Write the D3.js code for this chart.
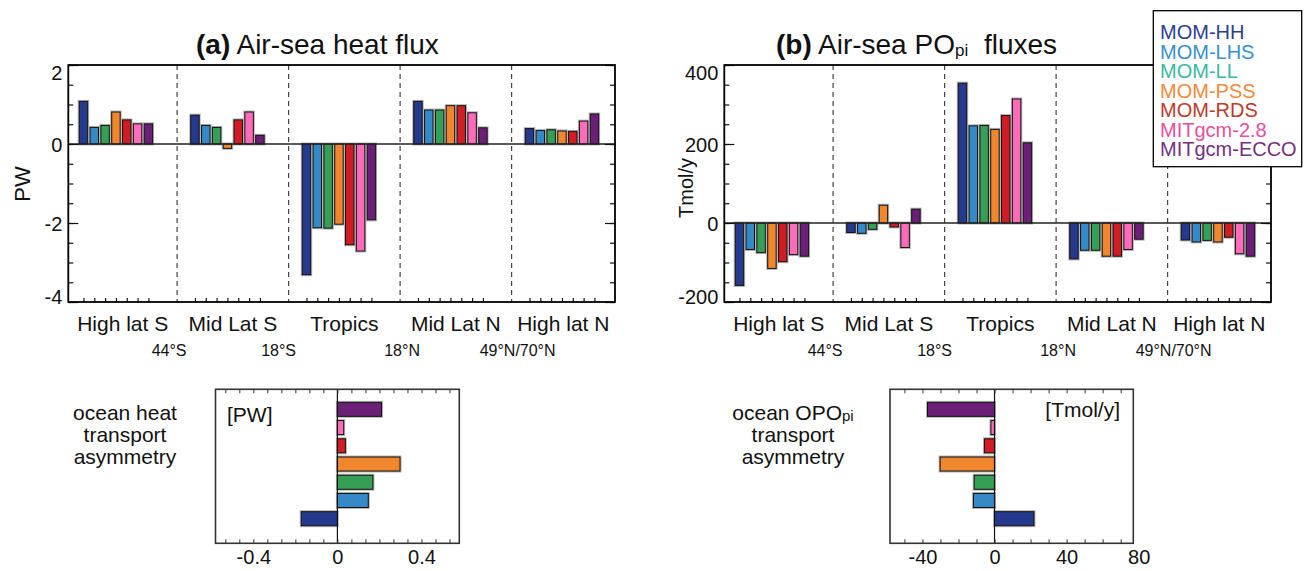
<!DOCTYPE html>
<html>
<head>
<meta charset="utf-8">
<script src="https://cdn.jsdelivr.net/npm/d3@7"></script>
<style>
body { margin: 0; background: #fff; }
svg text { font-family: "Liberation Sans", Arial, sans-serif; fill: #111; }
</style>
</head>
<body>
<svg id="chart" width="1309" height="571"></svg>
<script>
// models, in the order the bars are drawn
var models = ["MOM-HH", "MOM-LHS", "MOM-LL", "MOM-PSS", "MOM-RDS", "MITgcm-2.8", "MITgcm-ECCO"];
var barColors = ["#253a8d", "#3589c6", "#35a055", "#f0862d", "#d21c24", "#ff6bbb", "#6b1f77"];
var legendColors = ["#2b3f91", "#3a8fd0", "#3bb8a0", "#f5893a", "#c0392b", "#e84f9c", "#76307f"];

var regions = ["High lat S", "Mid Lat S", "Tropics", "Mid Lat N", "High lat N"];
var boundaries = ["44°S", "18°S", "18°N", "49°N/70°N"];

// (a) air-sea heat flux, PW (one value per model)
var heatHighLatS = [1.08, 0.42, 0.47, 0.81, 0.61, 0.51, 0.51];
var heatMidLatS  = [0.73, 0.47, 0.42, -0.11, 0.61, 0.81, 0.22];
var heatTropics  = [-3.31, -2.12, -2.13, -2.03, -2.55, -2.71, -1.92];
var heatMidLatN  = [1.08, 0.86, 0.86, 0.97, 0.97, 0.79, 0.41];
var heatHighLatN = [0.39, 0.34, 0.36, 0.33, 0.32, 0.58, 0.76];

// (b) air-sea POpi fluxes, Tmol/y
var poHighLatS = [-158, -67, -75, -115, -98, -80, -84];
var poMidLatS  = [-24, -26, -16, 45, -10, -62, 35];
var poTropics  = [354, 246, 247, 237, 272, 314, 203];
var poMidLatN  = [-91, -69, -69, -84, -84, -67, -41];
var poHighLatN = [-43, -48, -44, -48, -36, -78, -84];

// transport asymmetry insets
var heatAsym = [-0.172, 0.147, 0.169, 0.298, 0.038, 0.03, 0.21];
var poAsym   = [21.9, -11.7, -11.3, -30.2, -5.6, -2, -37.2];

var heatTicks = [-4, -2, 0, 2];
var poTicks = [-200, 0, 200, 400];
var heatAsymTicks = [-0.4, 0, 0.4];
var poAsymTicks = [-40, 0, 40, 80];

var svg = d3.select("#chart");

// x positions are in "bar slots": 7 bars + gap per region
var regionStep = 10.3, firstBar = 1.4, firstDivider = 10.05, slotsTotal = 50.5;
var plotTop = 65, plotBottom = 302, plotWidth = 546.7;

function drawPanel(o) {
  var g = svg.append("g");
  var x = d3.scaleLinear().domain([0, slotsTotal]).range([o.left, o.left + plotWidth]);
  var y = d3.scaleLinear().domain(o.domain).range([plotBottom, plotTop]);
  var right = o.left + plotWidth;
  var bw = x(0.78) - x(0);

  // dashed region dividers
  var divs = d3.range(4).map(function(k) { return firstDivider + k * regionStep; });
  g.selectAll(".div").data(divs).enter().append("line")
    .attr("x1", d => x(d)).attr("x2", d => x(d))
    .attr("y1", plotTop).attr("y2", plotBottom)
    .attr("stroke", "#444").attr("stroke-width", 1.2)
    .attr("stroke-dasharray", "5,4");

  // bars
  var barPos = [];
  o.data.forEach(function(vals, k) {
    var items = vals.map(function(v, j) {
      var s = firstBar + k * regionStep + j;
      barPos.push(s);
      return { s: s, v: v, c: barColors[j] };
    });
    var bg = g.append("g");
    bg.selectAll(".halo").data(items).enter().append("rect")
      .attr("x", d => x(d.s) - bw / 2)
      .attr("y", d => Math.min(y(d.v), y(0)))
      .attr("width", bw)
      .attr("height", d => Math.abs(y(d.v) - y(0)))
      .attr("fill", "none").attr("stroke", "#b5b5b5").attr("stroke-width", 3);
    bg.selectAll(".bar").data(items).enter().append("rect")
      .attr("x", d => x(d.s) - bw / 2)
      .attr("y", d => Math.min(y(d.v), y(0)))
      .attr("width", bw)
      .attr("height", d => Math.abs(y(d.v) - y(0)))
      .attr("fill", d => d.c).attr("stroke", "#111").attr("stroke-width", 1);
  });

  // zero line
  g.append("line")
    .attr("x1", o.left).attr("x2", right)
    .attr("y1", y(0)).attr("y2", y(0))
    .attr("stroke", "#222").attr("stroke-width", 1.3);

  // axes
  var minor = d3.range(o.domain[0], o.domain[1] + 1e-9, o.minorStep);
  g.append("g").attr("transform", `translate(${o.left},0)`)
    .call(d3.axisLeft(y).tickValues(o.ticks).tickSize(-10).tickPadding(6).tickFormat(d => String(d)))
    .call(a => a.select(".domain").remove())
    .call(a => a.selectAll("text")
      .attr("font-size", 20).attr("font-family", "Liberation Sans, Arial, sans-serif")
      .attr("y", d => d === o.domain[1] ? 8 : d === o.domain[0] ? -5 : 1));
  g.append("g").attr("transform", `translate(${o.left},0)`)
    .call(d3.axisLeft(y).tickValues(minor).tickSize(-5).tickFormat(""))
    .call(a => a.select(".domain").remove());
  g.append("g").attr("transform", `translate(${right},0)`)
    .call(d3.axisRight(y).tickValues(o.ticks).tickSize(-10).tickFormat(""))
    .call(a => a.select(".domain").remove());
  g.append("g").attr("transform", `translate(${right},0)`)
    .call(d3.axisRight(y).tickValues(minor).tickSize(-5).tickFormat(""))
    .call(a => a.select(".domain").remove());
  g.append("g").attr("transform", `translate(0,${plotBottom})`)
    .call(d3.axisBottom(x).tickValues(barPos).tickSize(-4).tickFormat(""))
    .call(a => a.select(".domain").remove());
  g.selectAll(".tick line").attr("stroke", "#111").attr("stroke-width", 1.2);

  // frame
  g.append("rect")
    .attr("x", o.left).attr("y", plotTop)
    .attr("width", plotWidth).attr("height", plotBottom - plotTop)
    .attr("fill", "none").attr("stroke", "#000").attr("stroke-width", 1.8);

  // region names
  var edges = [0].concat(divs).concat([slotsTotal]);
  g.selectAll(".reg").data(regions).enter().append("text")
    .attr("x", (d, i) => x((edges[i] + edges[i + 1]) / 2))
    .attr("y", 331)
    .attr("text-anchor", "middle")
    .attr("font-size", 21)
    .text(d => d);

  // boundary latitudes
  var latShift = [-8, -10, 2, 6];
  g.selectAll(".lat").data(boundaries).enter().append("text")
    .attr("x", (d, i) => x(divs[i]) + latShift[i])
    .attr("y", 356)
    .attr("text-anchor", "middle")
    .attr("font-size", 16)
    .text(d => d);

  // y title
  g.append("text")
    .attr("transform", `translate(${o.titleX},${o.titleY}) rotate(-90)`)
    .attr("text-anchor", "middle")
    .attr("dy", "0.35em")
    .attr("font-size", o.titleSize)
    .text(o.yTitle);
}

drawPanel({ left: 68.3, domain: [-4, 2], ticks: heatTicks, minorStep: 0.5,
  data: [heatHighLatS, heatMidLatS, heatTropics, heatMidLatN, heatHighLatN],
  yTitle: "PW", titleX: 22, titleY: 184, titleSize: 22 });
drawPanel({ left: 724.3, domain: [-200, 400], ticks: poTicks, minorStep: 50,
  data: [poHighLatS, poMidLatS, poTropics, poMidLatN, poHighLatN],
  yTitle: "Tmol/y", titleX: 686, titleY: 188, titleSize: 20 });

// titles
var t1 = svg.append("text").attr("x", 196).attr("y", 54).attr("font-size", 28);
t1.append("tspan").attr("font-weight", "bold").text("(a)");
t1.append("tspan").text(" Air-sea heat flux");
var t2 = svg.append("text").attr("x", 776).attr("y", 54).attr("font-size", 28);
t2.append("tspan").attr("font-weight", "bold").text("(b)");
t2.append("tspan").text(" Air-sea PO");
t2.append("tspan").attr("font-size", 17).attr("dy", 2).text("pi");
t2.append("tspan").attr("dy", -2).attr("dx", 8).text(" fluxes");

// insets
var insetTop = 389.3, insetBottom = 543.3;
function drawInset(o) {
  var g = svg.append("g");
  var x = d3.scaleLinear().domain(o.domain).range([o.left, o.right]);
  var y = d3.scaleLinear().domain([-0.35, 8.1]).range([insetBottom, insetTop]);
  var bh = 14;
  var items = o.data.map((v, i) => ({ v: v, i: i }));

  g.selectAll(".halo").data(items).enter().append("rect")
    .attr("x", d => Math.min(x(d.v), x(0)))
    .attr("y", d => y(d.i + 1) - bh / 2)
    .attr("width", d => Math.abs(x(d.v) - x(0)))
    .attr("height", bh)
    .attr("fill", "none").attr("stroke", "#b5b5b5").attr("stroke-width", 3);
  g.selectAll(".bar").data(items).enter().append("rect")
    .attr("x", d => Math.min(x(d.v), x(0)))
    .attr("y", d => y(d.i + 1) - bh / 2)
    .attr("width", d => Math.abs(x(d.v) - x(0)))
    .attr("height", bh)
    .attr("fill", d => barColors[d.i]).attr("stroke", "#111").attr("stroke-width", 1);

  g.append("line")
    .attr("x1", x(0)).attr("x2", x(0))
    .attr("y1", insetTop).attr("y2", insetBottom)
    .attr("stroke", "#111").attr("stroke-width", 1.2);

  g.append("g").attr("transform", `translate(0,${insetBottom})`)
    .call(d3.axisBottom(x).tickValues(o.minor).tickSize(-4).tickFormat(""))
    .call(a => a.select(".domain").remove());
  g.append("g").attr("transform", `translate(0,${insetTop})`)
    .call(d3.axisTop(x).tickValues(o.minor).tickSize(-4).tickFormat(""))
    .call(a => a.select(".domain").remove());
  g.append("g").attr("transform", `translate(0,${insetBottom})`)
    .call(d3.axisBottom(x).tickValues(o.ticks).tickSize(0).tickPadding(7).tickFormat(d => String(d)))
    .call(a => a.select(".domain").remove())
    .call(a => a.selectAll("text").attr("font-size", 20).attr("font-family", "Liberation Sans, Arial, sans-serif"));
  g.selectAll(".tick line").attr("stroke", "#333");

  g.append("rect")
    .attr("x", o.left).attr("y", insetTop)
    .attr("width", o.right - o.left).attr("height", insetBottom - insetTop)
    .attr("fill", "none").attr("stroke", "#333").attr("stroke-width", 1.6);

  g.append("text")
    .attr("x", o.unitX).attr("y", o.unitY)
    .attr("text-anchor", o.unitAnchor)
    .attr("font-size", 21)
    .text(o.unit);
}

drawInset({ left: 215.5, right: 459.3, domain: [-0.58, 0.58],
  data: heatAsym, ticks: heatAsymTicks,
  minor: d3.range(-8, 9).map(i => i * 0.4 / 6),
  unit: "[PW]", unitX: 227, unitY: 422, unitAnchor: "start" });
drawInset({ left: 890, right: 1133.3, domain: [-58, 77],
  data: poAsym, ticks: poAsymTicks,
  minor: d3.range(-50, 71, 10),
  unit: "[Tmol/y]", unitX: 1120, unitY: 417, unitAnchor: "end" });

// inset side labels
function sideLabel(cx, first, sub) {
  var t = svg.append("text").attr("x", cx).attr("y", 420).attr("text-anchor", "middle").attr("font-size", 21);
  t.append("tspan").text(first);
  if (sub) t.append("tspan").attr("font-size", 15).attr("dy", 1).text(sub);
  svg.append("text").attr("x", cx).attr("y", 442).attr("text-anchor", "middle").attr("font-size", 21).text("transport");
  svg.append("text").attr("x", cx).attr("y", 464).attr("text-anchor", "middle").attr("font-size", 21).text("asymmetry");
}
sideLabel(125, "ocean heat");
sideLabel(793, "ocean OPO", "pi");

// legend
var lg = svg.append("g");
lg.append("rect")
  .attr("x", 1153.3).attr("y", 10.7).attr("width", 148.4).attr("height", 156)
  .attr("fill", "#fff").attr("stroke", "#000").attr("stroke-width", 1.3);
lg.selectAll(".lt").data(models).enter().append("text")
  .attr("x", 1160)
  .attr("y", (d, i) => 39 + i * 19.5)
  .attr("font-size", 20)
  .style("fill", (d, i) => legendColors[i])
  .text(d => d);
</script>
</body>
</html>
